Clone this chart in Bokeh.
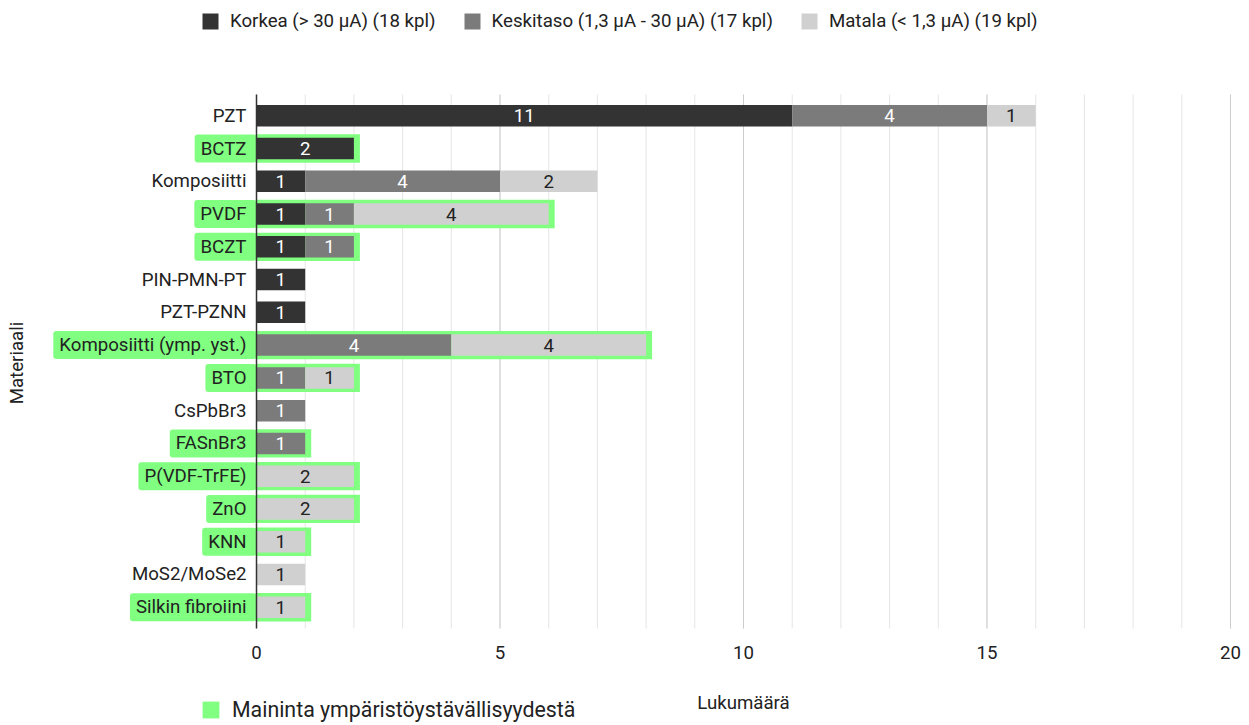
from bokeh.plotting import figure
from bokeh.models import (ColumnDataSource, Range1d, FixedTicker, Legend, LegendItem, Label)
from bokeh.core.properties import value
from bokeh.transform import dodge
from bokeh.embed import file_html
from bokeh.resources import INLINE

# ---------------- data ----------------
categories = ["PZT", "BCTZ", "Komposiitti", "PVDF", "BCZT", "PIN-PMN-PT", "PZT-PZNN",
              "Komposiitti (ymp. yst.)", "BTO", "CsPbBr3", "FASnBr3", "P(VDF-TrFE)",
              "ZnO", "KNN", "MoS2/MoSe2", "Silkin fibroiini"]
korkea = [11, 2, 1, 1, 1, 1, 1, 0, 0, 0, 0, 0, 0, 0, 0, 0]
keskitaso = [4, 0, 4, 1, 1, 0, 0, 4, 1, 1, 1, 0, 0, 0, 0, 0]
matala = [1, 0, 2, 4, 0, 0, 0, 4, 1, 0, 0, 2, 2, 1, 1, 1]
ymparisto = [False, True, False, True, True, False, False, True, True, False, True,
             True, True, True, False, True]
series_names = ["Korkea (> 30 \u00b5A)", "Keskitaso (1,3 \u00b5A - 30 \u00b5A)",
                "Matala (< 1,3 \u00b5A)"]
eco_label = "Maininta ympäristöystävällisyydestä"
x_ticks = [0, 5, 10, 15, 20]
x_minor_ticks = list(range(0, 21))
x_title = "Lukumäärä"
y_title = "Materiaali"

# ---------------- style / layout ----------------
colors = ["#333333", "#7b7b7b", "#d0d0d0"]
label_colors = ["#ffffff", "#ffffff", "#222222"]
GREEN = "#80ff80"
FONT = "Roboto"
FS = "14pt"
AREA_LO, AREA_HI = -0.65, 15.65     # extent of the bar area in row units

n = len(categories)
row = [n - 1 - i for i in range(n)]  # first category on top

p = figure(width=1249, height=725, output_backend="svg", toolbar_location=None,
           x_range=Range1d(-4.3943, 20.39), y_range=Range1d(-3.6109, 18.5193),
           min_border_left=42, min_border_right=0, min_border_top=0, min_border_bottom=0)
p.outline_line_color = None
p.xgrid.visible = False
p.ygrid.visible = False

# x axis drawn at the bottom edge of the bar area
xa = p.xaxis[0]
xa.ticker = FixedTicker(ticks=x_ticks, minor_ticks=x_minor_ticks)
xa.fixed_location = AREA_LO
xa.axis_line_color = None
xa.major_tick_line_color = None
xa.minor_tick_line_color = None
xa.major_tick_out = 0
xa.minor_tick_out = 0
xa.major_label_standoff = 18
xa.major_label_text_font = FONT
xa.major_label_text_font_size = FS
xa.major_label_text_color = "#222222"

# y axis: title only
ya = p.yaxis[0]
ya.ticker = FixedTicker(ticks=[])
ya.axis_label = y_title
ya.axis_label_text_font = FONT
ya.axis_label_text_font_size = FS
ya.axis_label_text_font_style = "normal"
ya.axis_label_text_color = "#222222"
ya.axis_label_standoff = 15
ya.axis_line_color = None
ya.major_tick_line_color = None
ya.minor_tick_line_color = None
ya.major_tick_out = 0
ya.major_label_standoff = 0

# vertical grid lines, limited to the bar area
p.segment(x0=x_minor_ticks, y0=AREA_LO, x1=x_minor_ticks, y1=AREA_HI,
          line_color="#e6e6e6", line_width=1)
p.segment(x0=x_ticks[1:], y0=AREA_LO, x1=x_ticks[1:], y1=AREA_HI,
          line_color="#cccccc", line_width=1)

# green highlight boxes behind bars
g_rows = [r for r, f in zip(row, ymparisto) if f]
g_cats = [c for c, f in zip(categories, ymparisto) if f]
g_tot = [a + b + c for a, b, c, f in zip(korkea, keskitaso, matala, ymparisto) if f]
gsrc = ColumnDataSource(dict(y=g_rows, cat=g_cats, total=g_tot))
g_r = p.hbar(y="y", left=0, right=dodge("total", 0.123), height=0.867, source=gsrc,
             fill_color=GREEN, line_color=None)

# stacked bars
src = ColumnDataSource(dict(y=row, cat=categories, k=korkea, m=keskitaso, l=matala))
rs = p.hbar_stack(["k", "m", "l"], y="y", height=0.656, source=src,
                  fill_color=colors, line_color=None)

# value labels
vx, vy, vt, vc = [], [], [], []
for i in range(n):
    cum = 0
    for vals, col in zip([korkea, keskitaso, matala], label_colors):
        v = vals[i]
        if v > 0:
            vx.append(cum + v / 2)
            vy.append(row[i])
            vt.append(str(v))
            vc.append(col)
        cum += v
vsrc = ColumnDataSource(dict(x=vx, y=vy, t=vt, c=vc))
p.text(x="x", y="y", text="t", text_color="c", source=vsrc, text_align="center",
       text_baseline="middle", text_font=value(FONT), text_font_size=FS)

# category labels
plain_src = ColumnDataSource(dict(
    y=[r for r, f in zip(row, ymparisto) if not f],
    cat=[c for c, f in zip(categories, ymparisto) if not f]))
green_src = ColumnDataSource(dict(y=g_rows, cat=g_cats))
p.text(x=0, y="y", text="cat", source=plain_src, x_offset=-10, text_align="right",
       text_baseline="middle", text_font=value(FONT), text_font_size=FS, text_color="#222222")
p.text(x=0, y="y", text="cat", source=green_src, x_offset=0, text_align="right",
       text_baseline="middle", text_font=value(FONT), text_font_size=FS, text_color="#222222",
       background_fill_color=GREEN, border_line_color=None,
       padding=dict(left=6, right=10, top=3, bottom=3), border_radius=3)

# zero axis line
p.segment(x0=[0], y0=AREA_LO, x1=[0], y1=AREA_HI, line_color="#333333", line_width=1.5)

# x axis title centred on the 0..20 data span
p.add_layout(Label(x=10, y=23, x_units="data", y_units="screen", text=x_title,
                   text_align="center", text_baseline="middle", text_font=FONT,
                   text_font_size=FS, text_color="#222222"))

# top legend
items = [LegendItem(label=f"{nm} ({sum(v)} kpl)", renderers=[r])
         for nm, v, r in zip(series_names, [korkea, keskitaso, matala], rs)]
top_legend = Legend(items=items, orientation="horizontal", location=(158, 693),
                    glyph_width=20, glyph_height=20, label_height=20, label_standoff=10,
                    spacing=26, padding=0, margin=0, border_line_color=None,
                    background_fill_alpha=0, label_text_font=FONT, label_text_font_size=FS,
                    label_text_color="#222222")
p.add_layout(top_legend)

bottom_legend = Legend(items=[LegendItem(label=eco_label, renderers=[g_r])],
                       orientation="horizontal", location=(158, 3),
                       glyph_width=21, glyph_height=21, label_height=21, label_standoff=11,
                       padding=0, margin=0, border_line_color=None, background_fill_alpha=0,
                       label_text_font=FONT, label_text_font_size="16pt",
                       label_text_color="#222222")
p.add_layout(bottom_legend)

open("out.html", "w").write(file_html(p, INLINE))
